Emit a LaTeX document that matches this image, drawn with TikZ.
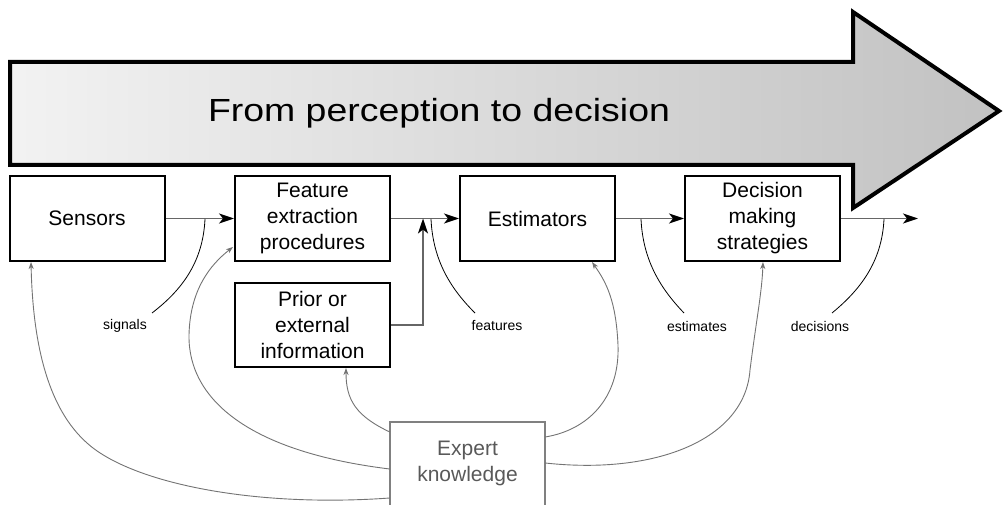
\documentclass[tikz,border=0pt]{standalone}
\usepackage{fontspec}
\setmainfont{Liberation Sans}
\usetikzlibrary{arrows.meta}
\begin{document}
\begin{tikzpicture}[x=1pt,y=-1pt,
  box/.style={draw=black, line width=2pt, minimum width=155pt, minimum height=85pt,
    align=center, inner sep=0pt, font=\fontsize{21}{26}\selectfont},
  flow/.style={draw=black!60, line width=1.5pt,
    -{Stealth[length=15pt,width=10pt,inset=4pt,color=black]}},
  lbl/.style={draw=black, line width=0.8pt},
  lbltext/.style={font=\fontsize{14}{16}\selectfont, inner sep=0pt},
  know/.style={draw=black!55, line width=0.9pt,
    -{Stealth[length=7pt,width=5pt,inset=2pt]}},
  bigarrow/.style={draw=black, line width=4pt, line join=miter,
    left color=black!5, right color=black!24}
]
\useasboundingbox (0,0) rectangle (1004,505);

% big arrow
\path[bigarrow] (10,62) -- (853,62) -- (853,12) -- (999,111) -- (853,208)
  -- (853,165) -- (10,165) -- cycle;
\node[anchor=base, inner sep=0pt] (title) at (439,122)
  {\scalebox{1.17}[1]{\fontsize{32}{38}\selectfont From perception to decision}};

% boxes
\node[box] (sensors) at (87,218.5) {Sensors};
\node[box] (feat) at (312.5,218.5) {Feature\\extraction\\procedures};
\node[box] (est) at (537.5,218.5) {Estimators};
\node[box] (dec) at (762.5,218.5) {Decision\\making\\strategies};
\node[box, minimum height=84pt] (prior) at (312.5,325) {Prior or\\external\\information};

% expert knowledge
\node[minimum width=155pt, minimum height=82pt, inner sep=0pt, align=center,
  text=black!65, font=\fontsize{21}{26}\selectfont] (expert) at (467.5,463)
  {Expert\\knowledge};
\draw[draw=black!50, line width=2pt] ([yshift=-60pt]expert.south west)
  -- (expert.north west) -- (expert.north east) -- ([yshift=-60pt]expert.south east);

% main flow
\coordinate (j) at (423,218.5);
\coordinate (out) at (918,218.5);
\draw[flow] (sensors.east) -- (feat.west);
\draw[flow] (feat.east) -- (est.west);
\draw[flow] (est.east) -- (dec.west);
\draw[flow] (dec.east) -- (out);
\draw[flow] (prior.east) -| (j);

% labels
\node[lbltext] (signals) at (125,326) {signals};
\node[lbltext] (features) at (497,326) {features};
\node[lbltext] (estimates) at (697,326) {estimates};
\node[lbltext] (decisions) at (820,326) {decisions};
\coordinate (s0) at (205,219);
\coordinate (s1) at (152,313);
\coordinate (f0) at (431,219);
\coordinate (f1) at (475,313);
\coordinate (e0) at (641,219);
\coordinate (e1) at (684,313);
\coordinate (d0) at (884,219);
\coordinate (d1) at (832,313);
\draw[lbl] (s0) .. controls (203,262) and (182,290) .. (s1);
\draw[lbl] (f0) .. controls (433,262) and (452,290) .. (f1);
\draw[lbl] (e0) .. controls (643,262) and (662,290) .. (e1);
\draw[lbl] (d0) .. controls (882,262) and (860,290) .. (d1);

% expert knowledge connectors
\coordinate (sensin) at (31,262);
\coordinate (featin) at (233,247);
\coordinate (priorin) at (346,368);
\coordinate (estin) at (592,262);
\coordinate (decin) at (763,262);
\draw[know] ([yshift=-35pt]expert.west) .. controls (250,508) and (130,482)
  .. (87,443) .. controls (50,410) and (33,350) .. (sensin);
\draw[know] ([yshift=-6pt]expert.west) .. controls (250,452) and (188,400)
  .. (189,335) .. controls (190,290) and (210,265) .. (featin);
\draw[know] ([yshift=31pt]expert.west) .. controls (356,416) and (346,400) .. (priorin);
\draw[know] ([yshift=26pt]expert.east) .. controls (588,430) and (620,398)
  .. (618,345) .. controls (616,300) and (606,282) .. (estin);
\draw[know] (expert.east) .. controls (655,475) and (745,440)
  .. (750,370) .. controls (756,322) and (762,292) .. (decin);
\end{tikzpicture}
\end{document}
